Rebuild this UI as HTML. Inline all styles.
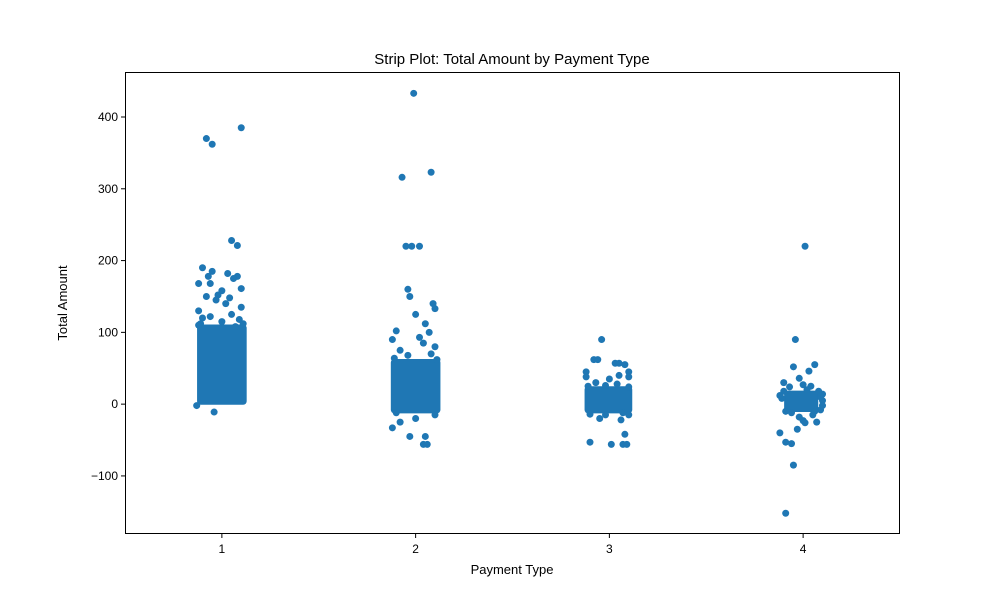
<!DOCTYPE html>
<html><head><meta charset="utf-8"><style>
body{margin:0;background:#fff}
svg text{font-family:"Liberation Sans","DejaVu Sans",sans-serif;fill:#000}
</style></head><body>
<svg id="chart" width="1000" height="600" xmlns="http://www.w3.org/2000/svg">
<rect x="0" y="0" width="1000" height="600" fill="#fff"/>
<text x="512" y="64" font-size="15" text-anchor="middle">Strip Plot: Total Amount by Payment Type</text>
<g id="marks"></g>
<g id="axes"></g>
<rect x="125.5" y="72.5" width="774" height="461" fill="none" stroke="#000" stroke-width="1"/>
<text x="512" y="574" font-size="13" text-anchor="middle">Payment Type</text>
<text transform="translate(67,303) rotate(-90)" font-size="13" text-anchor="middle">Total Amount</text>
</svg>
<script>
const categories = ["1","2","3","4"];
const yTicks = [-100, 0, 100, 200, 300, 400];
const yTickLabels = ["\u2212100","0","100","200","300","400"];
// dense band per category: [jitterMin, jitterMax, valueLow, valueHigh]
const band1 = [-0.11, 0.11, 4, 106];
const band2 = [-0.11, 0.11, -8, 58];
const band3 = [-0.11, 0.10, -8, 20];
const band4 = [-0.08, 0.06, -6, 14];
const bands = [band1, band2, band3, band4];
// individual points [jitter, value]
const pts1 = [[-0.08,370],[-0.05,362],[0.1,385],[0.05,228],[0.08,221],[-0.12,168],[-0.06,168],[-0.1,190],[-0.05,185],[0.0,158],[-0.02,152],[0.08,178],[0.1,161],[0.04,148],[-0.08,150],[0.06,175],[-0.12,130],[0.1,135],[-0.1,120],[-0.13,-2],[-0.04,-11],[0.02,140],[-0.03,145],[0.09,118],[-0.11,112],[0.05,125],[-0.07,178],[0.03,182],[-0.12,110],[0.11,112],[0.0,115],[-0.06,122],[0.07,108]];
const pts2 = [[-0.01,433],[-0.07,316],[0.08,323],[-0.05,220],[-0.02,220],[0.02,220],[-0.04,160],[-0.03,150],[0.09,140],[0.1,133],[0.0,125],[0.05,112],[-0.1,102],[0.07,100],[-0.12,90],[0.02,93],[0.04,85],[0.1,80],[-0.12,-33],[-0.03,-45],[0.05,-45],[0.04,-56],[0.06,-56],[-0.08,-25],[0.1,-15],[0.0,-20],[-0.1,-12],[-0.08,75],[0.08,70],[-0.04,68],[-0.11,64],[0.11,62]];
const pts3 = [[-0.04,90],[-0.08,62],[-0.06,62],[0.03,57],[0.05,57],[0.08,55],[0.1,45],[-0.12,45],[-0.12,38],[0.1,38],[0.05,40],[-0.1,-53],[0.01,-56],[0.07,-56],[0.09,-56],[0.08,-42],[0.06,-22],[-0.05,-20],[0.1,-15],[-0.1,-14],[0.0,35],[-0.02,-15],[-0.07,30],[0.04,28],[-0.11,25],[0.1,24],[-0.02,26],[0.07,-12]];
const pts4 = [[0.01,220],[-0.04,90],[0.06,55],[-0.05,52],[0.03,46],[-0.02,36],[-0.12,-40],[-0.09,-53],[-0.06,-55],[-0.05,-85],[-0.09,-152],[0.0,-23],[0.01,-26],[0.07,-25],[-0.03,-35],[0.1,14],[-0.1,30],[0.04,25],[0.0,27],[-0.07,24],[0.09,-8],[0.1,5],[-0.11,8],[-0.02,-18],[0.05,-15],[-0.06,-12],[0.02,20],[0.08,18],[0.09,10],[-0.1,18],[-0.12,12],[0.06,-10],[0.1,-2],[-0.09,-10]];
const points = [pts1, pts2, pts3, pts4];

const X0=125, X1=900, Y0=72, Y1=534, xmin=0.5, xmax=4.5, ymin=-180.9, ymax=462.7;
const xs = v => X0 + (v - xmin) / (xmax - xmin) * (X1 - X0);
const ys = v => Y1 - (v - ymin) / (ymax - ymin) * (Y1 - Y0);
const NS = "http://www.w3.org/2000/svg";
const marks = document.getElementById('marks');
const axes = document.getElementById('axes');
const C = "#1f77b4", R = 3.5;

bands.forEach((b, i) => {
  const r = document.createElementNS(NS, 'rect');
  
  
  const xa = xs(i + 1 + b[0]) - R, xb = xs(i + 1 + b[1]) + R;
  const ya = ys(b[3]) - R, yb = ys(b[2]) + R;
  r.setAttribute('x', xa); r.setAttribute('y', ya);
  r.setAttribute('width', xb - xa); r.setAttribute('height', yb - ya);
  r.setAttribute('rx', R); r.setAttribute('fill', C);
  marks.appendChild(r);
});
points.forEach((ps, i) => {
  ps.forEach(p => {
    const c = document.createElementNS(NS, 'circle');
    
    
    c.setAttribute('cx', xs(i + 1 + p[0])); c.setAttribute('cy', ys(p[1]));
    c.setAttribute('r', R); c.setAttribute('fill', C);
    marks.appendChild(c);
  });
});
categories.forEach((c, i) => {
  const x = xs(i + 1);
  const l = document.createElementNS(NS, 'line');
  
  
  l.setAttribute('x1', x); l.setAttribute('x2', x);
  l.setAttribute('y1', Y1); l.setAttribute('y2', Y1 + 4);
  l.setAttribute('stroke', '#000');
  axes.appendChild(l);
  const t = document.createElementNS(NS, 'text');
  
  
  t.setAttribute('x', x); t.setAttribute('y', Y1 + 19);
  t.setAttribute('font-size', '12'); t.setAttribute('text-anchor', 'middle');
  t.textContent = c;
  axes.appendChild(t);
});
yTicks.forEach((v, i) => {
  const y = ys(v);
  const l = document.createElementNS(NS, 'line');
  
  
  l.setAttribute('x1', X0 - 4); l.setAttribute('x2', X0);
  l.setAttribute('y1', y); l.setAttribute('y2', y);
  l.setAttribute('stroke', '#000');
  axes.appendChild(l);
  const t = document.createElementNS(NS, 'text');
  
  
  t.setAttribute('x', X0 - 7); t.setAttribute('y', y + 4);
  t.setAttribute('font-size', '12'); t.setAttribute('text-anchor', 'end');
  t.textContent = yTickLabels[i];
  axes.appendChild(t);
});
</script>
</body></html>
